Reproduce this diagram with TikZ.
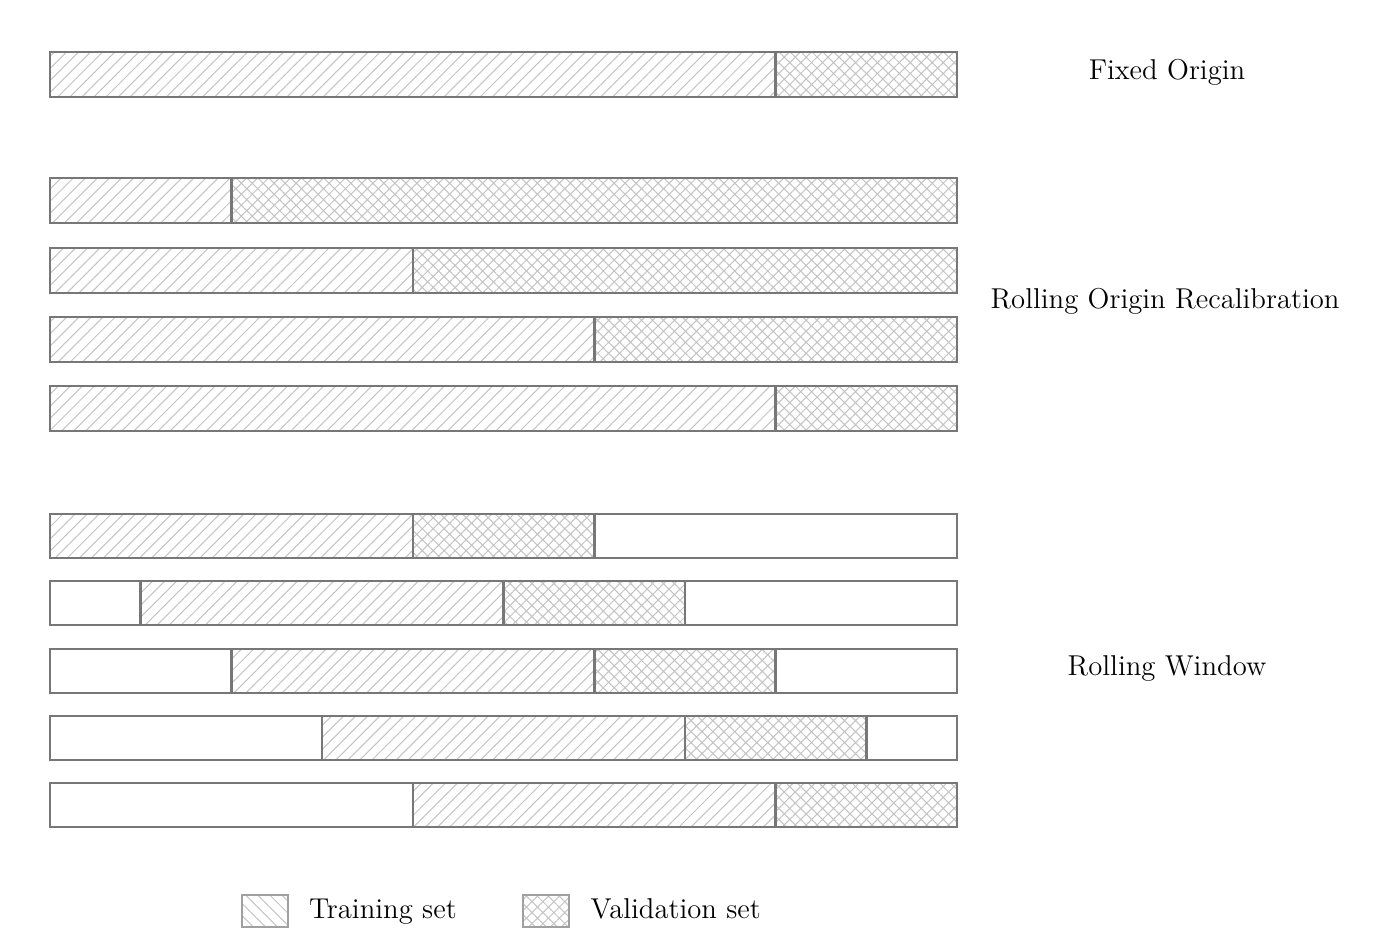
\documentclass[tikz,border=0pt]{standalone}
\usepackage{tikz}
\usetikzlibrary{patterns.meta}
\usetikzlibrary{positioning}
\definecolor{bargray}{HTML}{777777}
\definecolor{hatchgray}{HTML}{C4C4C4}
\tikzset{idle/.style = {draw=bargray, line width=1pt, fill=white}}
\tikzset{train/.style = {draw=bargray, line width=1pt,
                         pattern={Lines[angle=45, distance=3.3pt, line width=0.4pt]},
                         pattern color=hatchgray}}
\tikzset{valid/.style = {draw=bargray, line width=1pt,
                         pattern={Hatch[angle=45, distance=3pt, line width=0.4pt]},
                         pattern color=hatchgray}}
\tikzset{key/.style = {draw=bargray!70, line width=0.8pt, inner sep=0,
                       minimum width=17.8pt, minimum height=12.4pt}}
\tikzset{lbl/.style = {font=\fontsize{11.1}{13}\selectfont}}
\tikzset{keylbl/.style = {lbl, text height=2ex, text depth=0.6ex}}
\def\seg{181.4}

\begin{document}
\begin{tikzpicture}[x=0.0136cm, y=-0.0136cm]
      \useasboundingbox (0, 0) rectangle (1400, 951);
      % fixed origin
      \draw [train] (50, 52) rectangle (50+4*\seg, 97);
      \draw [valid] (50+4*\seg, 52) rectangle (50+5*\seg, 97);
      \node [lbl] (fixed) at (1167, 72) {Fixed Origin};
      % rolling origin recalibration
      \foreach \k/\y in {1/178, 2/248, 3/317, 4/386} {
        \draw [train] (50, \y) rectangle (50+\k*\seg, \y+45);
        \draw [valid] (50+\k*\seg, \y) rectangle (50+5*\seg, \y+45);
      }
      \node [lbl] (ror) at (1165, 301) {Rolling Origin Recalibration};
      % rolling window, moved on by half a segment each row
      \foreach \k/\y in {0/514, 1/581, 2/649, 3/716, 4/783} {
        \draw [idle] (50, \y) rectangle (50+5*\seg, \y+44);
        \draw [train] (50+\k*\seg/2, \y) rectangle (50+\k*\seg/2+2*\seg, \y+44);
        \draw [valid] (50+\k*\seg/2+2*\seg, \y) rectangle (50+\k*\seg/2+3*\seg, \y+44);
      }
      \node [lbl] (window) at (1167, 668) {Rolling Window};
      % legend
      \node [key, pattern={Lines[angle=-45, distance=3.3pt, line width=0.4pt]},
             pattern color=hatchgray] (trainkey) at (265, 911) {};
      \node [keylbl, right=4.4pt of trainkey] (trainlabel) {Training set};
      \node [key, pattern={Hatch[angle=45, distance=3pt, line width=0.4pt]},
             pattern color=hatchgray] (validkey) at (546, 911) {};
      \node [keylbl, right=4.4pt of validkey] (validlabel) {Validation set};
    \end{tikzpicture}
\end{document}
